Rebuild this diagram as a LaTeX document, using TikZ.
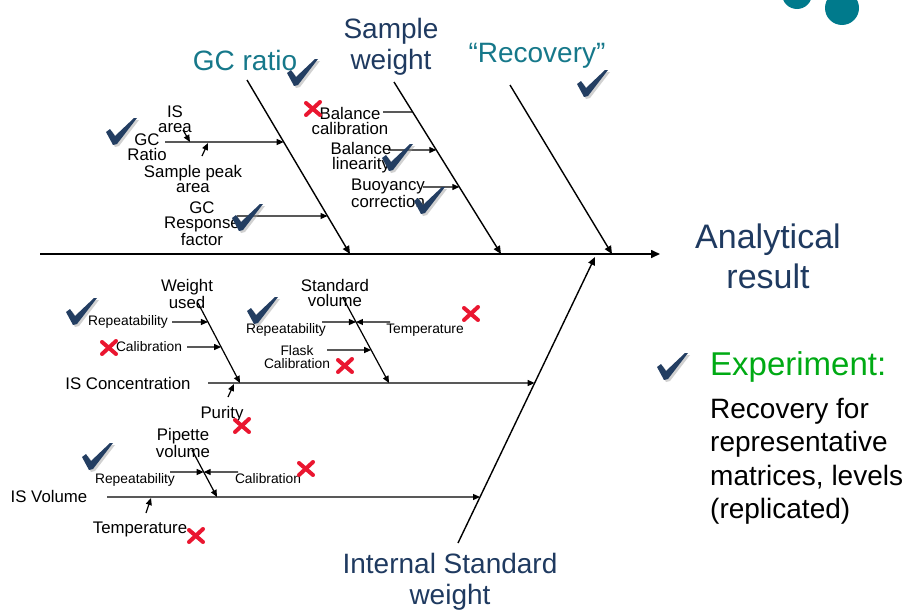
\documentclass[tikz,border=0pt]{standalone}
\usepackage{fontspec}
\setmainfont{Liberation Sans}
\usetikzlibrary{arrows.meta,calc}
\definecolor{navy}{RGB}{31,58,96}
\definecolor{tealt}{RGB}{22,120,138}
\definecolor{circc}{RGB}{0,122,140}
\definecolor{xred}{RGB}{234,22,48}
\definecolor{tickc}{RGB}{35,62,98}
\definecolor{expg}{RGB}{0,170,20}
\def\tickpath{(-15,1) -- (-11,-2) -- (-6,5) -- (13,-13) -- (16,-13) -- (-4,13) -- (-8,14) -- cycle}
\begin{document}
\begin{tikzpicture}[x=1pt,y=-1pt,
  spine/.style={line width=1.6pt},
  bone/.style={line width=1.4pt},
  sub/.style={line width=1.2pt},
  arr/.style={line width=1.2pt,-{Triangle[length=7pt,width=6pt]}},
  barr/.style={line width=1.4pt,-{Triangle[length=8pt,width=7pt]}},
  lbl/.style={inner sep=0pt, align=center, font=\fontsize{16.8}{15}\selectfont},
  slbl/.style={inner sep=0pt, align=center, font=\fontsize{13.8}{13}\selectfont},
  ttl/.style={inner sep=0pt, align=center, text=navy, font=\fontsize{28}{31}\selectfont},
  tttl/.style={inner sep=0pt, text=tealt, font=\fontsize{28}{31}\selectfont},
  chk/.pic={\fill[black!40,opacity=0.45,shift={(2,2)}] \tickpath; \fill[tickc] \tickpath;},
  crs/.pic={\draw[xred,line width=4pt,line cap=round] (-7,-6) -- (7,6) (7,-7) -- (-7,6);}
]
\useasboundingbox (0,0) rectangle (906,613);
% decorative circles
\fill[circc] (797,-6) circle (15);
\fill[circc] (842,8) circle (17);

% ---------- coordinates ----------
\coordinate (spL) at (40,254);
\coordinate (spR) at (660,254);
\coordinate (gcT) at (247,80);   \coordinate (gcB) at (350,254);
\coordinate (swT) at (394,82);   \coordinate (swB) at (501,254);
\coordinate (recT) at (510,85);  \coordinate (recB) at (612,254);
\coordinate (isB) at (458,543);  \coordinate (isT) at (595,257);

\coordinate (gr1) at (165,142);  \coordinate (grE) at ($(gcT)!{62/174}!(gcB)$);
\coordinate (isa1) at (183,130); \coordinate (isa2) at (190,142);
\coordinate (spa1) at (202,156); \coordinate (spa2) at (208,143);
\coordinate (rf1) at (237,216);  \coordinate (rfE) at ($(gcT)!{136/174}!(gcB)$);

\coordinate (bc1) at (383,112);  \coordinate (bcE) at ($(swT)!{30/172}!(swB)$);
\coordinate (bl1) at (388,150);  \coordinate (blE) at ($(swT)!{68/172}!(swB)$);
\coordinate (bu1) at (423,187);  \coordinate (buE) at ($(swT)!{105/172}!(swB)$);

\coordinate (ic1) at (208,383);  \coordinate (icE) at ($(isB)!{160/286}!(isT)$);
\coordinate (iv1) at (107,497);  \coordinate (ivE) at ($(isB)!{46/286}!(isT)$);

\coordinate (wuT) at (198,303);  \coordinate (wuB) at (240,383);
\coordinate (wr1) at (172,322);  \coordinate (wrE) at ($(wuT)!{19/80}!(wuB)$);
\coordinate (wc1) at (187,347);  \coordinate (wcE) at ($(wuT)!{44/80}!(wuB)$);
\coordinate (pu1) at (228,397);  \coordinate (pu2) at (234,384);

\coordinate (svT) at (343,298);  \coordinate (svB) at (389,383);
\coordinate (sr1) at (322,322);  \coordinate (srE) at ($(svT)!{24/85}!(svB)$);
\coordinate (st1) at (390,322);
\coordinate (sf1) at (327,350);  \coordinate (sfE) at ($(svT)!{52/85}!(svB)$);

\coordinate (pvT) at (192,450);  \coordinate (pvB) at (217,497);
\coordinate (pr1) at (170,472);  \coordinate (prE) at ($(pvT)!{22/47}!(pvB)$);
\coordinate (pc1) at (238,472);
\coordinate (it1) at (146,513);  \coordinate (it2) at (151,498);

% ---------- connectors ----------
\draw[spine,-{Triangle[length=9pt,width=8pt]}] (spL) -- (spR);
\draw[barr] (gcT) -- (gcB);
\draw[barr] (swT) -- (swB);
\draw[barr] (recT) -- (recB);
\draw[barr] (isB) -- (isT);

\draw[arr] (gr1) -- (grE);
\draw[arr] (isa1) -- (isa2);
\draw[arr] (spa1) -- (spa2);
\draw[arr] (rf1) -- (rfE);
\draw[sub] (bc1) -- (bcE);
\draw[arr] (bl1) -- (blE);
\draw[arr] (bu1) -- (buE);

\draw[arr] (ic1) -- (icE);
\draw[arr] (iv1) -- (ivE);
\draw[arr] (wuT) -- (wuB);
\draw[arr] (wr1) -- (wrE);
\draw[arr] (wc1) -- (wcE);
\draw[arr] (pu1) -- (pu2);
\draw[arr] (svT) -- (svB);
\draw[arr] (sr1) -- (srE);
\draw[arr] (st1) -- (srE);
\draw[arr] (sf1) -- (sfE);
\draw[arr] (pvT) -- (pvB);
\draw[arr] (pr1) -- (prE);
\draw[arr] (pc1) -- (prE);
\draw[arr] (it1) -- (it2);

% ---------- titles ----------
\node[tttl, anchor=base] (tGC) at (245,70) {GC ratio};
\node[ttl, anchor=north] (tSW) at (391,18) {Sample\\weight};
\node[tttl, anchor=base] (tRec) at (537,62) {“Recovery”};
\node[ttl, anchor=north, font=\fontsize{34}{40}\selectfont] (tAR) at (768,224) {Analytical\\result};
\node[ttl, anchor=north] (tIS) at (450,553) {Internal Standard\\weight};

% ---------- upper labels ----------
\node[lbl, anchor=north] (lISa) at (175,106) {IS\\area};
\node[lbl, anchor=north] (lGCr) at (147,134) {GC\\Ratio};
\node[lbl, anchor=north] (lSpa) at (193,165) {Sample peak\\area};
\node[lbl, anchor=north] (lRf) at (202,202) {GC\\Response\\factor};
\node[lbl, anchor=north] (lBc) at (350,107) {Balance\\calibration};
\node[lbl, anchor=north] (lBl) at (361,142) {Balance\\linearity};
\node[lbl, anchor=north] (lBu) at (388,179) {Buoyancy\\correction};

% ---------- lower labels ----------
\node[lbl, anchor=north] (lWu) at (187,279) {Weight\\used};
\node[slbl, anchor=base] (lWr) at (128,325) {Repeatability};
\node[slbl, anchor=base] (lWc) at (149,351) {Calibration};
\node[lbl, anchor=base] (lIC) at (128,389) {IS Concentration};
\node[lbl, anchor=base] (lPu) at (222,418) {Purity};
\node[lbl, anchor=north] (lSv) at (335,279) {Standard\\volume};
\node[slbl, anchor=base] (lSr) at (286,333) {Repeatability};
\node[slbl, anchor=base] (lSt) at (425,333) {Temperature};
\node[slbl, anchor=north] (lSf) at (297,345) {Flask\\Calibration};
\node[lbl, anchor=north] (lPv) at (183,428) {Pipette\\volume};
\node[slbl, anchor=base] (lPr) at (135,483) {Repeatability};
\node[slbl, anchor=base] (lPc) at (268,483) {Calibration};
\node[lbl, anchor=base] (lIV) at (49,502) {IS Volume};
\node[lbl, anchor=base] (lIt) at (140,533) {Temperature};

% ---------- experiment ----------
\node[inner sep=0pt, anchor=base west, text=expg, font=\fontsize{33}{36}\selectfont] (lExp) at (710,375) {Experiment:};
\node[inner sep=0pt, anchor=north west, align=left, font=\fontsize{28}{33.5}\selectfont] (lRec) at (710,398) {Recovery for\\representative\\matrices, levels\\(replicated)};

% ---------- marks ----------
\pic at (302,72) {chk};
\pic at (592,83) {chk};
\pic at (121,131) {chk};
\pic at (247,217) {chk};
\pic at (397,157) {chk};
\pic at (429,200) {chk};
\pic at (81,311) {chk};
\pic at (262,310) {chk};
\pic at (97,456) {chk};
\pic at (672,366) {chk};

\pic at (313,109) {crs};
\pic at (471,314) {crs};
\pic at (345,366) {crs};
\pic at (109,348) {crs};
\pic at (242,426) {crs};
\pic at (306,469) {crs};
\pic at (196,536) {crs};
\end{tikzpicture}
\end{document}
